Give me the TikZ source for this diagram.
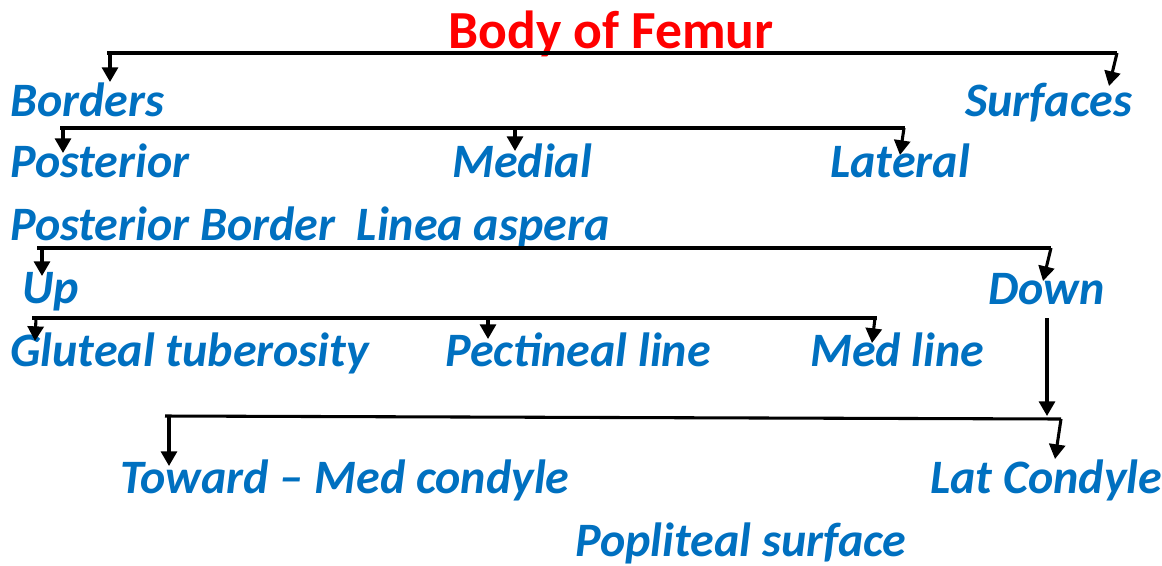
\documentclass[tikz,border=0pt]{standalone}
\usepackage{fontspec}
\setmainfont{Carlito}
\usetikzlibrary{arrows.meta}
\definecolor{tblue}{HTML}{0070C0}
\definecolor{tred}{HTML}{FF0000}
\begin{document}
\begin{tikzpicture}[x=0.75pt,y=-0.75pt,
  lbl/.style={anchor=base west,inner sep=0pt,text=tblue,font=\fontsize{36}{42}\selectfont\bfseries\itshape},
  ttl/.style={anchor=base,inner sep=0pt,text=tred,font=\fontsize{40.2}{46}\selectfont\bfseries},
  bar/.style={line width=2.3pt},
  arr/.style={line width=2.3pt,-{Triangle[width=12pt,length=11pt]}}]
\useasboundingbox (0,0) rectangle (1162,565);
% texts
\node[ttl] (title) at (611,48) {Body of Femur};
\node[lbl] (borders) at (10,116) {Borders};
\node[lbl] (surfaces) at (965,116) {Surfaces};
\node[lbl] (posterior) at (10,177) {Posterior};
\node[lbl] (medial) at (452,177) {Medial};
\node[lbl] (lateral) at (830,177) {Lateral};
\node[lbl] (pborder) at (10,240) {Posterior Border\ \ Linea aspera};
\node[lbl] (up) at (22,303) {Up};
\node[lbl] (down) at (988,304) {Down};
\node[lbl] (gluteal) at (10,366) {Gluteal tuberosity};
\node[lbl] (pectineal) at (445,366) {Pectineal line};
\node[lbl] (medline) at (810,366) {Med line};
\node[lbl] (toward) at (120,493) {Toward – Med condyle};
\node[lbl] (latcond) at (930,493) {Lat Condyle};
\node[lbl] (popliteal) at (575,556) {Popliteal surface};
% bracket coordinates
\coordinate (b1l) at (107,53); \coordinate (b1r) at (1117,53);
\coordinate (b2l) at (60,128); \coordinate (b2r) at (905,128);
\coordinate (b3l) at (37,248); \coordinate (b3r) at (1051,248);
\coordinate (b4l) at (32,318); \coordinate (b4r) at (877,318);
\coordinate (b5l) at (165,416); \coordinate (b5r) at (1061,419);
% bracket bars
\draw[bar] (b1l) -- (b1r);
\draw[bar] (b2l) -- (b2r);
\draw[bar] (b3l) -- (b3r);
\draw[bar] (b4l) -- (b4r);
\draw[bar] (b5l) -- (b5r);
% arrows
\coordinate (a1s) at (110,53); \coordinate (a1t) at (110,82);
\draw[arr] (a1s) -- (a1t);
\coordinate (a2t) at (1109,86);
\draw[arr] (b1r) -- (a2t);
\coordinate (a3s) at (63,128); \coordinate (a3t) at (63,153);
\draw[arr] (a3s) -- (a3t);
\coordinate (a4s) at (515,128); \coordinate (a4t) at (515,151);
\draw[arr] (a4s) -- (a4t);
\coordinate (a5s) at (904,128); \coordinate (a5t) at (900,155);
\draw[arr] (a5s) -- (a5t);
\coordinate (a6s) at (42,248); \coordinate (a6t) at (42,276);
\draw[arr] (a6s) -- (a6t);
\coordinate (a7t) at (1043,281);
\draw[arr] (b3r) -- (a7t);
\coordinate (a8s) at (36,318); \coordinate (a8t) at (35,341);
\draw[arr] (a8s) -- (a8t);
\coordinate (a9s) at (488,318); \coordinate (a9t) at (488,339);
\draw[arr] (a9s) -- (a9t);
\coordinate (a10s) at (875,318); \coordinate (a10t) at (872,343);
\draw[arr] (a10s) -- (a10t);
\coordinate (a11s) at (1047,318); \coordinate (a11t) at (1047,416);
\draw[arr] (a11s) -- (a11t);
\coordinate (a12s) at (169,416); \coordinate (a12t) at (169,466);
\draw[arr] (a12s) -- (a12t);
\coordinate (a13t) at (1055,459);
\draw[arr] (b5r) -- (a13t);
\end{tikzpicture}
\end{document}
